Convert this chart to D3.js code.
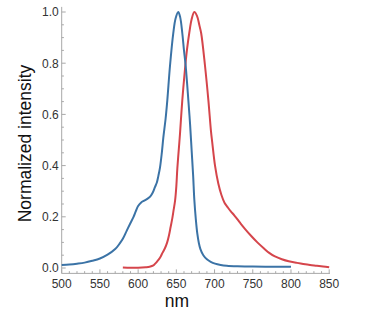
<!DOCTYPE html>
<html>
<head>
<meta charset="utf-8">
<script src="https://cdn.jsdelivr.net/npm/d3@7"></script>
<style>
  html, body { margin: 0; padding: 0; background: #fff; }
  svg { display: block; }
  text { font-family: "Liberation Sans", Arial, sans-serif; }
</style>
</head>
<body>
<svg id="chart" width="369" height="324"></svg>
<script>
// ---- data ----
const blueNm = [500,510,520,530,540,550,560,570,576,580,585,590,594,597,600,604,608,612,616,619,622,624.5,626.5,628.6,631,633,636,638.2,641.7,646,649,652.5,655,657.8,660,662.2,665.7,668,670,672,673.5,675.5,677.4,679.5,681.5,685.3,690,695,700.6,708,716,730,750,775,800];
const blueVal = [0.012,0.014,0.017,0.021,0.028,0.037,0.052,0.074,0.096,0.114,0.145,0.176,0.200,0.222,0.242,0.256,0.263,0.270,0.280,0.294,0.316,0.334,0.360,0.392,0.450,0.510,0.585,0.656,0.790,0.917,0.975,1.0,0.980,0.917,0.850,0.790,0.656,0.560,0.460,0.360,0.268,0.190,0.135,0.097,0.074,0.050,0.034,0.024,0.017,0.012,0.009,0.007,0.006,0.005,0.005];

const redNm = [580,590,600,610,615,620,622,625,628.6,632,635.2,638,640.4,642.5,644.7,646.5,648.3,650,651.3,653.9,654.8,657.8,661.7,664,667,670,673.5,677,680,682.5,687.5,691.9,695.3,697,700.6,704.9,709,713,717,721,726,733,740,748,756,764,771,779,788,797,808,816,825,834,842,850];
const redVal = [0.002,0.001,0.001,0.003,0.005,0.010,0.016,0.026,0.040,0.060,0.078,0.100,0.128,0.160,0.194,0.228,0.262,0.320,0.389,0.490,0.525,0.656,0.790,0.855,0.920,0.972,1.0,0.985,0.950,0.917,0.790,0.656,0.535,0.490,0.400,0.330,0.285,0.255,0.238,0.222,0.205,0.178,0.152,0.125,0.100,0.078,0.060,0.045,0.034,0.026,0.020,0.016,0.012,0.009,0.006,0.003];

const xTicks = [500,550,600,650,700,750,800,850];
const yTicks = [0.0,0.2,0.4,0.6,0.8,1.0];
const xLabel = "nm";
const yLabel = "Normalized intensity";

// ---- layout ----
const svg = d3.select("#chart");
const x = d3.scaleLinear().domain([500, 850]).range([61.7, 329.2]);
const y = d3.scaleLinear().domain([0, 1]).range([268, 12]);
const axisY = y(-0.021);
const axisTop = y(1.02);
const axisColor = "#a8a8a8";
const textColor = "#333";

// y axis
const gy = svg.append("g");
gy.append("line").attr("x1", x(500)).attr("x2", x(500)).attr("y1", axisY).attr("y2", axisTop)
  .attr("stroke", axisColor).attr("stroke-width", 1);
d3.range(0, 1.0001, 0.05).forEach(v => {
  const major = yTicks.some(t => Math.abs(t - v) < 1e-6);
  gy.append("line").attr("x1", x(500)).attr("x2", x(500) + (major ? 4 : 2.2))
    .attr("y1", y(v)).attr("y2", y(v)).attr("stroke", axisColor).attr("stroke-width", 1);
});
gy.selectAll("text.yt").data(yTicks).enter().append("text")
  .attr("x", x(500) - 3).attr("y", d => y(d)).attr("dy", "0.36em")
  .attr("text-anchor", "end").attr("font-size", 12).attr("fill", textColor)
  .text(d => d.toFixed(1));

// x axis
const gx = svg.append("g");
gx.append("line").attr("x1", x(500)).attr("x2", x(851)).attr("y1", axisY).attr("y2", axisY)
  .attr("stroke", axisColor).attr("stroke-width", 1);
d3.range(500, 851, 10).forEach(v => {
  const major = xTicks.includes(v);
  gx.append("line").attr("x1", x(v)).attr("x2", x(v))
    .attr("y1", axisY).attr("y2", axisY - (major ? 4 : 2.2))
    .attr("stroke", axisColor).attr("stroke-width", 1);
});
gx.selectAll("text.xt").data(xTicks).enter().append("text")
  .attr("x", d => x(d)).attr("y", axisY + 14.3)
  .attr("text-anchor", "middle").attr("font-size", 12).attr("fill", textColor)
  .text(d => d);

// axis labels
svg.append("text").attr("x", x(650) + 0.5).attr("y", 306.5)
  .attr("text-anchor", "middle").attr("font-size", 17.5).attr("fill", "#111")
  .text(xLabel);
svg.append("text").attr("transform", "translate(31,143.5) rotate(-90)")
  .attr("text-anchor", "middle").attr("font-size", 17.5).attr("fill", "#111")
  .text(yLabel);

// curves
const line = d3.line().x(d => x(d[0])).y(d => y(d[1])).curve(d3.curveCatmullRom.alpha(0.5));
svg.append("path").datum(d3.zip(redNm, redVal)).attr("d", line)
  .attr("fill", "none").attr("stroke", "#d5454b").attr("stroke-width", 2);
svg.append("path").datum(d3.zip(blueNm, blueVal)).attr("d", line)
  .attr("fill", "none").attr("stroke", "#3b73a6").attr("stroke-width", 2);
</script>
</body>
</html>
